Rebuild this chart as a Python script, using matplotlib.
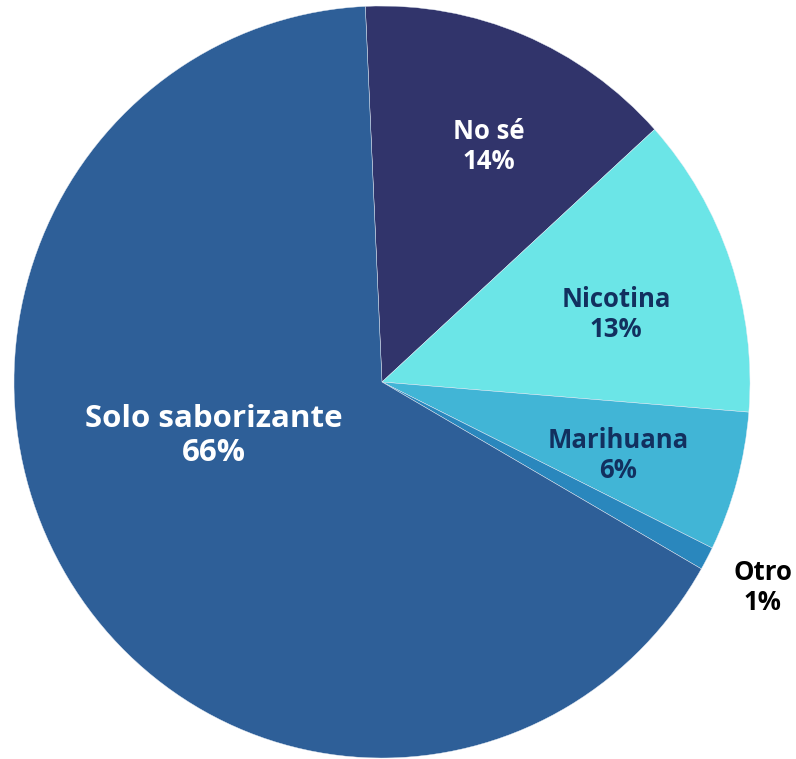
import matplotlib
matplotlib.use("Agg")
import matplotlib.pyplot as plt
import numpy as np

# data
labels = ["No sé", "Nicotina", "Marihuana", "Otro", "Solo saborizante"]
values = [14, 13, 6, 1, 66]
colors = ["#31346B", "#6BE5E7", "#41B5D6", "#2A87BD", "#2E5F98"]
text_colors = ["white", "#12305F", "#12305F", "black", "white"]
font_sizes = [18.5, 18.5, 18.5, 18.5, 22.5]
# radial distance and angle nudge (deg) for each label
label_dist = [0.69, 0.66, 0.67, 1.17, 0.48]
label_nudge = [-2.4, -3.1, -1.5, 0.2, -14.0]

plt.rcParams["font.family"] = ["Open Sans", "DejaVu Sans"]

fig = plt.figure(figsize=(7.96, 7.59), dpi=100)
W, H = 796, 759
ax = fig.add_axes([14 / W, 1 / H, 736 / W, 752 / H])

wedges, _ = ax.pie(values, colors=colors, startangle=92.6, counterclock=False,
                   wedgeprops=dict(edgecolor="#E8EEF6", linewidth=0.3))
ax.set_aspect("auto")
ax.set_xlim(-1, 1)
ax.set_ylim(-1, 1)
ax.axis("off")

for w, lab, v, tc, fs, d, nd in zip(wedges, labels, values, text_colors,
                                     font_sizes, label_dist, label_nudge):
    ang = np.deg2rad((w.theta1 + w.theta2) / 2 + nd)
    ax.text(d * np.cos(ang), d * np.sin(ang), f"{lab}\n{v}%",
            ha="center", va="center", color=tc, fontsize=fs,
            fontweight="bold", linespacing=1.15)

fig.savefig("out.png", dpi=100)
